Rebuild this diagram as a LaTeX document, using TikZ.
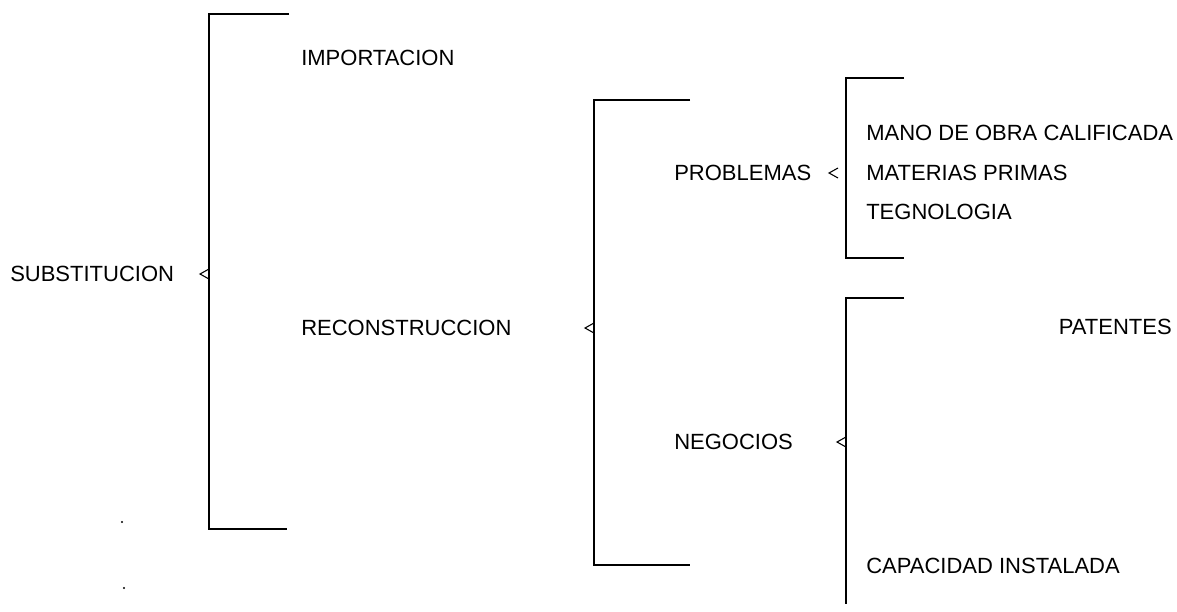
\documentclass[tikz,border=0pt]{standalone}
\usepackage{fontspec}
\setmainfont{Liberation Sans}
\usetikzlibrary{positioning}

\begin{document}
\begin{tikzpicture}[x=0.75pt, y=-0.75pt,
  lbl/.style={anchor=west, inner sep=0pt, font=\fontsize{16.5}{19}\selectfont},
  brk/.style={line width=1.2pt},
  tick/.style={line width=0.8pt}]
  \useasboundingbox (0,0) rectangle (1177,611);
  % Labels
  \node[lbl] (subst) at (10,274) {SUBSTITUCION};
  \node[lbl] (import) at (301,58) {IMPORTACION};
  \node[lbl] (recon) at (301,328) {RECONSTRUCCION};
  \node[lbl] (probl) at (674,173) {PROBLEMAS};
  \node[lbl] (negoc) at (674,442) {NEGOCIOS};
  \node[lbl] (mano) at (866,133) {MANO DE OBRA CALIFICADA};
  \node[lbl] (mater) at (866,173) {MATERIAS PRIMAS};
  \node[lbl] (tecno) at (866,212) {TEGNOLOGIA};
  \node[lbl, anchor=east] (paten) at (1172,327) {PATENTES};
  \node[lbl] (capac) at (866,566) {CAPACIDAD INSTALADA};
  % Brackets
  \draw[brk] (289,14) -- (209,14) -- (209,529) -- (287,529);
  \draw[brk] (690,100) -- (594,100) -- (594,565) -- (690,565);
  \draw[brk] (904,78) -- (846,78) -- (846,258) -- (904,258);
  \draw[brk] (904,298) -- (846,298) -- (846,604);
  % Markers
  \draw[tick] (209,269) -- (200,274) -- (209,279);
  \draw[tick] (594,323) -- (585,328) -- (594,333);
  \draw[tick] (838,168) -- (829,173) -- (838,178);
  \draw[tick] (846,437) -- (837,442) -- (846,447);
  % Specks
  \fill (122,522) circle (1.2);
  \fill (124,588) circle (1.2);
\end{tikzpicture}
\end{document}
